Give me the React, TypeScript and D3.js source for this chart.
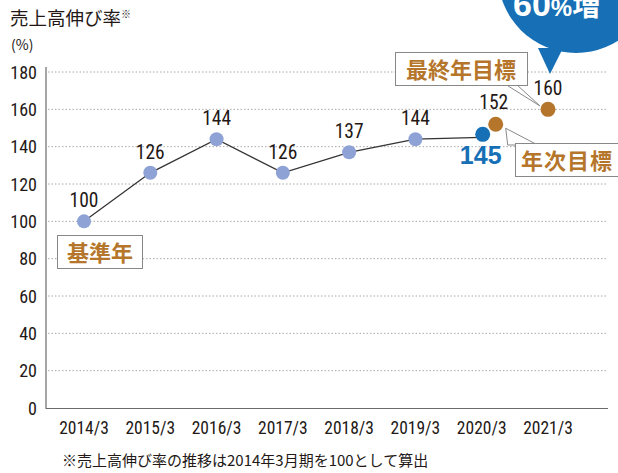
import React from "react";
import * as d3 from "d3";

const categories = ["2014/3", "2015/3", "2016/3", "2017/3", "2018/3", "2019/3", "2020/3", "2021/3"];
const actualValues = [100, 126, 144, 126, 137, 144, 145];
const annualTarget = 152;
const finalTarget = 160;
const yTicks = [0, 20, 40, 60, 80, 100, 120, 140, 160, 180];

const W = 618, H = 473;
const TXT = "#231815";
const BROWN = "#b5762b";
const BLUE = "#1770b5";
const DOT = "#8ea2d6";
const FONT = "'Liberation Sans Narrow', 'Arial Narrow', 'Roboto Condensed', 'Liberation Sans', sans-serif";
const JP = "'Noto Sans CJK JP', sans-serif";

export default function App() {
  const x = d3.scalePoint<string>().domain(categories).range([84, 548]);
  const y = d3.scaleLinear().domain([0, 180]).range([408, 72]);
  const line = d3.line<number>().x((_, i) => x(categories[i])!).y((d) => y(d));

  const bx = x("2020/3")!;
  const fx = x("2021/3")!;

  return (
    <svg width={W} height={H} style={{ position: "absolute", left: 0, top: 0 }}>
      <rect width={W} height={H} fill="#fff" />
      {/* title */}
      <text x={10} y={25} fontFamily={JP} fontSize={18.5} fill={TXT}>売上高伸び率<tspan fontSize={10} dy={-7}>※</tspan></text>
      <text x={11} y={50} fontFamily={JP} fontSize={14} fill={TXT}>(%)</text>

      {/* grid */}
      {yTicks.filter((t) => t > 0).map((t) => (
        <line key={t} x1={48} x2={608} y1={y(t)} y2={y(t)} stroke="#a9a9a9" strokeWidth={1} strokeDasharray="1.5,2" />
      ))}
      {/* axes */}
      <line x1={46} x2={46} y1={67} y2={408} stroke="#6b6b6b" strokeWidth={1.2} />
      <line x1={45.5} x2={608} y1={408.5} y2={408.5} stroke="#6b6b6b" strokeWidth={1.2} />

      {yTicks.map((t) => (
        <text key={t} x={37} y={y(t) + 6.5} textAnchor="end" fontFamily={FONT} fontSize={18} fill={TXT}>{t}</text>
      ))}
      {categories.map((c) => (
        <text key={c} x={x(c)} y={434} textAnchor="middle" fontFamily={FONT} fontSize={17.5} fill={TXT}>{c}</text>
      ))}

      {/* line */}
      <path d={line(actualValues)!} fill="none" stroke="#333" strokeWidth={1.3} />
      {actualValues.slice(0, 6).map((v, i) => (
        <g key={i}>
          <circle cx={x(categories[i])} cy={y(v)} r={7} fill={DOT} />
          <text x={x(categories[i])} y={y(v) - 14} textAnchor="middle" fontFamily={FONT} fontSize={19.5} fill={TXT}>{v}</text>
        </g>
      ))}

      {/* callout wedges */}
      <polygon points={`505,84 516,84 540,106`} fill="#fff" stroke="#888" strokeWidth={1} />
      <polygon points={`${bx + 26},145 ${bx + 56},145 ${bx + 24},${y(annualTarget) + 4}`} fill="#fff" stroke="#888" strokeWidth={1} />

      {/* targets */}
      <circle cx={bx + 14} cy={y(annualTarget)} r={7.5} fill={BROWN} />
      <text x={bx + 12} y={y(annualTarget) - 15} textAnchor="middle" fontFamily={FONT} fontSize={19.5} fill={TXT}>{annualTarget}</text>
      <circle cx={fx} cy={y(finalTarget)} r={7.5} fill={BROWN} />
      <text x={fx} y={y(finalTarget) - 14} textAnchor="middle" fontFamily={FONT} fontSize={19.5} fill={TXT}>{finalTarget}</text>

      <circle cx={bx + 1} cy={y(actualValues[6]) - 3} r={7.5} fill={BLUE} />
      <text x={bx - 1} y={163.5} textAnchor="middle" fontFamily="'Liberation Sans', sans-serif" fontWeight="bold" fontSize={25} fill={BLUE}>{actualValues[6]}</text>

      {/* boxes */}
      <rect x={395.5} y={52.5} width={132} height={33} fill="#fff" stroke="#888" strokeWidth={1} />
      <text x={461} y={77.5} textAnchor="middle" fontFamily={JP} fontWeight="bold" fontSize={22} fill={BROWN}>最終年目標</text>
      <rect x={515.5} y={143.5} width={110} height={33} fill="#fff" stroke="#888" strokeWidth={1} />
      <text x={521} y={168.5} fontFamily={JP} fontWeight="bold" fontSize={22} fill={BROWN} letterSpacing={1}>年次目標</text>
      <rect x={57.5} y={235.5} width={85} height={33} fill="#fff" stroke="#888" strokeWidth={1} />
      <text x={100} y={260.5} textAnchor="middle" fontFamily={JP} fontWeight="bold" fontSize={22} fill={BROWN}>基準年</text>

      {/* bubble */}
      <circle cx={576} cy={-25} r={78} fill={BLUE} />
      <polygon points="538,48 563,48 550,74" fill={BLUE} />
      <text x={513} y={16} fontFamily="'Liberation Sans', sans-serif" fontWeight="bold" fill="#fff">
        <tspan fontSize={34}>60</tspan><tspan fontSize={24}>%</tspan><tspan fontFamily={JP} fontSize={28}>増</tspan>
      </text>

      {/* footnote */}
      <text x={62} y={466} fontFamily={JP} fontSize={15} fill={TXT}>※売上高伸び率の推移は2014年3月期を100として算出</text>
    </svg>
  );
}
